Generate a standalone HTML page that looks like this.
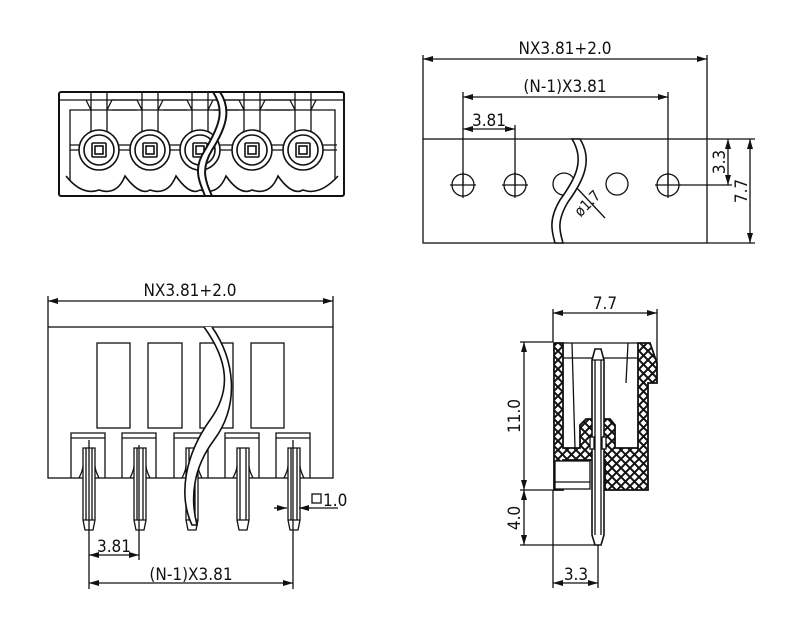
<!DOCTYPE html>
<html><head><meta charset="utf-8"><style>
html,body{margin:0;padding:0;background:#fff}
svg{display:block}
text{font-family:"DejaVu Sans Condensed","Liberation Sans",sans-serif;font-size:17px;fill:#111}
</style></head><body>
<svg width="800" height="629" viewBox="0 0 800 629" xmlns="http://www.w3.org/2000/svg">
<defs>
<pattern id="hx" width="9" height="9" patternUnits="userSpaceOnUse">
<rect width="9" height="9" fill="#fff"/>
<path d="M0,0L9,9M9,0L0,9" stroke="#111" stroke-width="2"/>
</pattern>
<marker id="ar" viewBox="0 0 10 6" refX="10" refY="3" markerWidth="10" markerHeight="6" orient="auto-start-reverse" markerUnits="userSpaceOnUse">
<path d="M0,0L10,3L0,6z" fill="#111"/>
</marker>
</defs>
<g fill="none" stroke="#111" stroke-width="1.3">

<!-- ===== TOP LEFT front view ===== -->
<rect x="59" y="92" width="285" height="104" rx="2" stroke-width="2"/>
<path d="M70,180 V110 H335 V180"/>
<line x1="59" y1="100" x2="344" y2="100"/>
<g id="tl">
<path d="M91,92 V135 M107,92 V135 M86,100 L91,110 M112,100 L107,110"/>
</g>
<use href="#tl" x="51"/><use href="#tl" x="101"/><use href="#tl" x="153"/><use href="#tl" x="204"/>
<path d="M112,100 H137 M112,110 H137 M163,100 H187 M163,110 H187 M214,100 H239 M214,110 H239 M265,100 H290 M265,110 H290"/>
<path d="M66,176 Q82,196 99,190 Q117,196 125,176 Q140,196 150,190 Q168,196 176,176 Q190,196 200,190 Q218,196 226,176 Q240,196 252,190 Q270,196 278,176 Q292,196 303,190 Q320,196 338,176" stroke-width="1.6"/>
<path d="M70,150 H337" />
<path d="M70,145 H337" />
<g id="cc" stroke-width="1.6">
<circle cx="99" cy="150" r="20" fill="#fff"/>
<circle cx="99" cy="150" r="15"/>
<rect x="92" y="143" width="14" height="14" rx="1"/>
<rect x="95" y="146" width="8" height="8"/>
</g>
<use href="#cc" x="51"/><use href="#cc" x="101"/><use href="#cc" x="153"/><use href="#cc" x="204"/>
<path d="M213,92 C225,110 220,125 205,150 C192,170 200,182 205,196 L212,196 C206,182 200,170 212,150 C226,128 232,110 220,92 Z" fill="#fff" stroke-width="2"/>

<!-- ===== TOP RIGHT top view ===== -->
<rect x="423" y="139" width="284" height="104"/>
<line x1="423" y1="139" x2="423" y2="55"/>
<line x1="707" y1="139" x2="707" y2="55"/>
<line x1="423" y1="59" x2="707" y2="59" marker-start="url(#ar)" marker-end="url(#ar)"/>
<line x1="463" y1="185" x2="463" y2="92"/>
<line x1="668" y1="185" x2="668" y2="92"/>
<line x1="463" y1="97" x2="668" y2="97" marker-start="url(#ar)" marker-end="url(#ar)"/>
<line x1="515" y1="185" x2="515" y2="125"/>
<line x1="463" y1="129" x2="515" y2="129" marker-start="url(#ar)" marker-end="url(#ar)"/>
<g id="hc"><circle cx="463" cy="185" r="11"/><path d="M450,185H476M463,172V198"/></g>
<use href="#hc" x="52"/><use href="#hc" x="205"/>
<circle cx="617" cy="184" r="11"/>
<circle cx="564" cy="184" r="11"/>
<path d="M575,186 L605,218"/>
<path d="M572,139 C585,160 576,178 560,200 C548,220 552,232 555,243 L563,243 C560,232 556,222 568,202 C584,180 593,160 580,139 Z" fill="#fff" stroke-width="1.6"/>
<line x1="679" y1="185" x2="732" y2="185"/>
<line x1="707" y1="139" x2="755" y2="139"/>
<line x1="707" y1="243" x2="755" y2="243"/>
<line x1="728" y1="139" x2="728" y2="185" marker-start="url(#ar)" marker-end="url(#ar)"/>
<line x1="750" y1="139" x2="750" y2="243" marker-start="url(#ar)" marker-end="url(#ar)"/>

<!-- ===== BOTTOM LEFT side view ===== -->
<rect x="48" y="327" width="285" height="151"/>
<line x1="48" y1="327" x2="48" y2="296"/>
<line x1="333" y1="327" x2="333" y2="296"/>
<line x1="48" y1="301" x2="333" y2="301" marker-start="url(#ar)" marker-end="url(#ar)"/>
<rect x="97" y="343" width="33" height="85"/>
<rect x="148" y="343" width="34" height="85"/>
<rect x="200" y="343" width="33" height="85"/>
<rect x="251" y="343" width="33" height="85"/>
<g id="pn">
<path d="M71,478 V433 H105 V478 M71,438 H105"/>
<path d="M83,448 H95 V520 L93,530 H85 L83,520 Z" fill="#fff"/>
<path d="M86,448 V520 M92,448 V520 M83,520 H95"/>
<path d="M79,478 Q83,470 83,466 M99,478 Q95,470 95,466"/>
</g>
<use href="#pn" x="51"/><use href="#pn" x="103"/><use href="#pn" x="154"/><use href="#pn" x="205"/>
<path d="M204,327 C228,360 232,390 210,420 C185,455 178,495 192,525 L197,525 C190,498 193,468 214,440 C240,405 235,360 212,327" fill="#fff" stroke-width="1.6"/>
<line x1="89" y1="440" x2="89" y2="589"/>
<line x1="139" y1="445" x2="139" y2="560"/>
<line x1="293" y1="440" x2="293" y2="589"/>
<line x1="89" y1="555" x2="139" y2="555" marker-start="url(#ar)" marker-end="url(#ar)"/>
<line x1="89" y1="583" x2="293" y2="583" marker-start="url(#ar)" marker-end="url(#ar)"/>
<line x1="274" y1="508" x2="287" y2="508" marker-end="url(#ar)"/>
<line x1="312" y1="508" x2="299" y2="508" marker-end="url(#ar)"/>
<line x1="312" y1="508" x2="338" y2="508"/>
<rect x="312" y="494" width="9" height="9"/>

<!-- ===== BOTTOM RIGHT section ===== -->
<line x1="553" y1="342" x2="553" y2="309"/>
<line x1="657" y1="363" x2="657" y2="309"/>
<line x1="553" y1="313" x2="657" y2="313" marker-start="url(#ar)" marker-end="url(#ar)"/>
<path d="M554,343 H563 V448 H580 V425 L586,419 H610 L615,425 V448 H638 V343 H650 L657,363 V383 H648 V490 H605 V460 H563 V490 H554 Z" fill="url(#hx)" stroke-width="1.8"/>
<path d="M563,343 H638 M563,358 H638" />
<path d="M572,343 L575,448 M628,343 L626,383"/>
<rect x="555" y="461" width="35" height="28" fill="#fff"/>
<line x1="555" y1="482" x2="590" y2="482"/>
<path d="M592,360 L595,349 H601 L604,360 V535 L601,545 H595 L592,535 Z" fill="#fff" stroke-width="1.6"/>
<path d="M595,360 V535 M601,360 V535 M592,360 H604"/>
<rect x="590" y="437" width="4" height="12" fill="#fff"/><rect x="602" y="437" width="4" height="12" fill="#fff"/>
<line x1="520" y1="342" x2="553" y2="342"/>
<line x1="520" y1="490" x2="553" y2="490"/>
<line x1="520" y1="545" x2="595" y2="545"/>
<line x1="524" y1="342" x2="524" y2="490" marker-start="url(#ar)" marker-end="url(#ar)"/>
<line x1="524" y1="490" x2="524" y2="545" marker-start="url(#ar)" marker-end="url(#ar)"/>
<line x1="553" y1="490" x2="553" y2="588"/>
<line x1="598" y1="545" x2="598" y2="588"/>
<line x1="553" y1="583" x2="598" y2="583" marker-start="url(#ar)" marker-end="url(#ar)"/>
</g>

<text x="565" y="54" text-anchor="middle">NX3.81+2.0</text>
<text x="565" y="92" text-anchor="middle">(N-1)X3.81</text>
<text x="489" y="126" text-anchor="middle">3.81</text>
<text transform="translate(725,162) rotate(-90)" text-anchor="middle">3.3</text>
<text transform="translate(747,191) rotate(-90)" text-anchor="middle">7.7</text>
<text transform="translate(591,207) rotate(-45)" text-anchor="middle" style="font-size:15px">ø1.7</text>
<text x="190" y="296" text-anchor="middle">NX3.81+2.0</text>
<text x="114" y="552" text-anchor="middle">3.81</text>
<text x="191" y="580" text-anchor="middle">(N-1)X3.81</text>
<text x="323" y="506">1.0</text>
<text x="605" y="309" text-anchor="middle">7.7</text>
<text transform="translate(520,416) rotate(-90)" text-anchor="middle">11.0</text>
<text transform="translate(520,518) rotate(-90)" text-anchor="middle">4.0</text>
<text x="576" y="580" text-anchor="middle">3.3</text>
</svg>
</body></html>
